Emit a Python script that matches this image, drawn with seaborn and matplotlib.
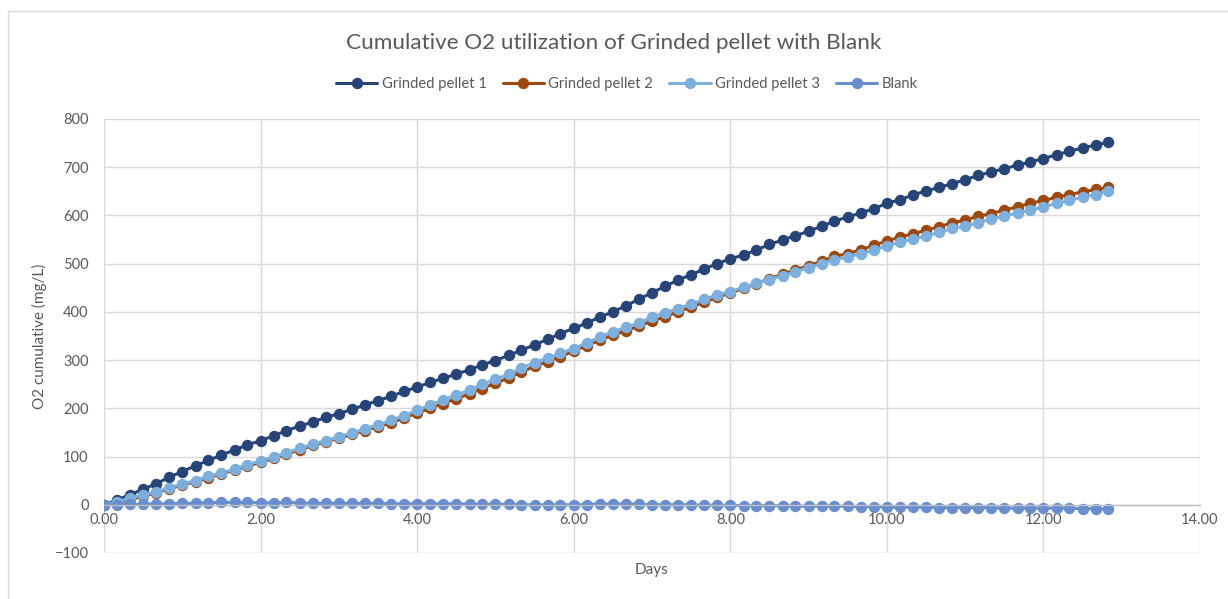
import matplotlib
matplotlib.use("Agg")
import matplotlib.pyplot as plt
from matplotlib.patches import Rectangle
import seaborn as sns
import pandas as pd

# Sampling times (days, every 4 hours)
days = [0.00, 0.17, 0.33, 0.50, 0.67, 0.83, 1.00, 1.17, 1.33, 1.50,
        1.67, 1.83, 2.00, 2.17, 2.33, 2.50, 2.67, 2.83, 3.00, 3.17,
        3.33, 3.50, 3.67, 3.83, 4.00, 4.17, 4.33, 4.50, 4.67, 4.83,
        5.00, 5.17, 5.33, 5.50, 5.67, 5.83, 6.00, 6.17, 6.33, 6.50,
        6.67, 6.83, 7.00, 7.17, 7.33, 7.50, 7.67, 7.83, 8.00, 8.17,
        8.33, 8.50, 8.67, 8.83, 9.00, 9.17, 9.33, 9.50, 9.67, 9.83,
        10.00, 10.17, 10.33, 10.50, 10.67, 10.83, 11.00, 11.17, 11.33, 11.50,
        11.67, 11.83, 12.00, 12.17, 12.33, 12.50, 12.67, 12.83]

# Cumulative O2 utilization (mg/L)
grinded_pellet_1 = [0, 10, 21, 32, 44, 57, 69, 81, 92, 103,
                    114, 124, 133, 143, 154, 163, 172, 181, 189, 198,
                    207, 216, 225, 235, 244, 254, 262, 271, 280, 290,
                    299, 310, 320, 332, 343, 355, 366, 377, 389, 400,
                    413, 426, 440, 453, 466, 477, 489, 500, 510, 518,
                    528, 540, 549, 558, 567, 578, 588, 597, 605, 614,
                    625, 633, 642, 651, 658, 666, 674, 683, 690, 697,
                    704, 711, 718, 726, 733, 740, 746, 752]

grinded_pellet_2 = [0, 4, 11, 18, 25, 33, 41, 48, 56, 64,
                    72, 80, 88, 96, 105, 114, 123, 131, 138, 146,
                    154, 162, 170, 180, 190, 200, 210, 220, 230, 241,
                    252, 263, 275, 287, 297, 307, 319, 330, 341, 352,
                    361, 370, 381, 390, 400, 410, 420, 430, 439, 449,
                    458, 469, 478, 487, 496, 505, 515, 521, 529, 538,
                    547, 555, 562, 569, 577, 584, 591, 598, 604, 611,
                    618, 625, 631, 638, 643, 649, 654, 658]

grinded_pellet_3 = [0, 6, 14, 21, 27, 35, 43, 50, 59, 66,
                    74, 83, 91, 99, 108, 117, 126, 133, 141, 149,
                    157, 166, 175, 185, 196, 207, 217, 228, 238, 250,
                    260, 271, 283, 295, 304, 314, 324, 336, 347, 359,
                    368, 377, 389, 398, 407, 416, 426, 435, 442, 451,
                    459, 467, 475, 483, 492, 500, 508, 514, 521, 528,
                    537, 544, 551, 557, 565, 573, 578, 585, 592, 599,
                    605, 611, 618, 625, 631, 638, 643, 651]

blank = [0, 0, 1, 1, 2, 2, 3, 3, 4, 5,
         5, 5, 4, 4, 5, 4, 3, 3, 3, 3,
         3, 3, 2, 2, 2, 2, 2, 2, 1, 1,
         1, 1, 0, 0, 0, 0, 0, 0, 2, 1,
         2, 1, 0, 0, 0, 0, -1, -1, -1, -2,
         -2, -2, -2, -3, -3, -3, -3, -3, -4, -4,
         -5, -5, -5, -5, -6, -6, -6, -6, -6, -7,
         -7, -7, -7, -7, -7, -8, -8, -9]

series_names = ["Grinded pellet 1", "Grinded pellet 2", "Grinded pellet 3", "Blank"]
series_values = [grinded_pellet_1, grinded_pellet_2, grinded_pellet_3, blank]
colors = ["#264478", "#9E480E", "#7CAFDD", "#698ED0"]

x_ticks = [0, 2, 4, 6, 8, 10, 12, 14]
y_ticks = [-100, 0, 100, 200, 300, 400, 500, 600, 700, 800]

df = pd.concat(
    [pd.DataFrame({"Days": days, "O2": vals, "Series": name})
     for name, vals in zip(series_names, series_values)],
    ignore_index=True,
)

sns.set_theme(style="white")
plt.rcParams["font.family"] = ["Lato", "DejaVu Sans"]

W, H = 1228, 599
fig = plt.figure(figsize=(W / 100, H / 100), dpi=100)
fig.patch.set_facecolor("white")

# chart area outline
fig.patches.append(Rectangle((8 / W, -0.05), 1.2, 1 - 11 / H + 0.05,
                             transform=fig.transFigure, fill=False,
                             edgecolor="#D9D9D9", linewidth=1.0))

left, right, top, bottom = 104, 1200, 119, 553
ax = fig.add_axes([left / W, 1 - bottom / H, (right - left) / W, (bottom - top) / H])

sns.lineplot(data=df, x="Days", y="O2", hue="Series", hue_order=series_names,
             palette=colors, marker="o", markersize=8.2, markeredgewidth=0,
             linewidth=2.2, ax=ax, sort=False)

ax.set_xlim(0, 14)
ax.set_ylim(-100, 800)
ax.set_xticks(x_ticks)
ax.set_xticklabels([f"{t:.2f}" for t in x_ticks])
ax.set_yticks(y_ticks)
ax.grid(True, color="#D9D9D9", linewidth=1.0)
ax.set_axisbelow(True)

for side in ["left", "right", "top"]:
    ax.spines[side].set_visible(False)
ax.spines["bottom"].set_position(("data", 0))
ax.spines["bottom"].set_color("#BFBFBF")
ax.spines["bottom"].set_linewidth(1.0)

ax.tick_params(axis="both", length=0, labelsize=10.5, labelcolor="#595959")
ax.tick_params(axis="y", pad=11)
ax.tick_params(axis="x", pad=6)

ax.set_xlabel("Days", fontsize=11, color="#595959")
ax.xaxis.set_label_coords(0.5, -0.022)
ax.set_ylabel("O2 cumulative (mg/L)", fontsize=11, color="#595959")
ax.yaxis.set_label_coords(-0.052, 0.5)

handles, labels = ax.get_legend_handles_labels()
ax.get_legend().remove()
fig.legend(handles, labels, loc="center", bbox_to_anchor=(0.5106, 1 - 84 / H),
           ncol=4, frameon=False, fontsize=10.6, handlelength=2.8,
           columnspacing=1.1, handletextpad=0.3, labelcolor="#595959")

fig.text(0.5, 1 - 43 / H, "Cumulative O2 utilization of Grinded pellet with Blank",
         ha="center", va="center", fontsize=16.2, color="#595959")

fig.savefig("out.png", dpi=100, facecolor="white")
